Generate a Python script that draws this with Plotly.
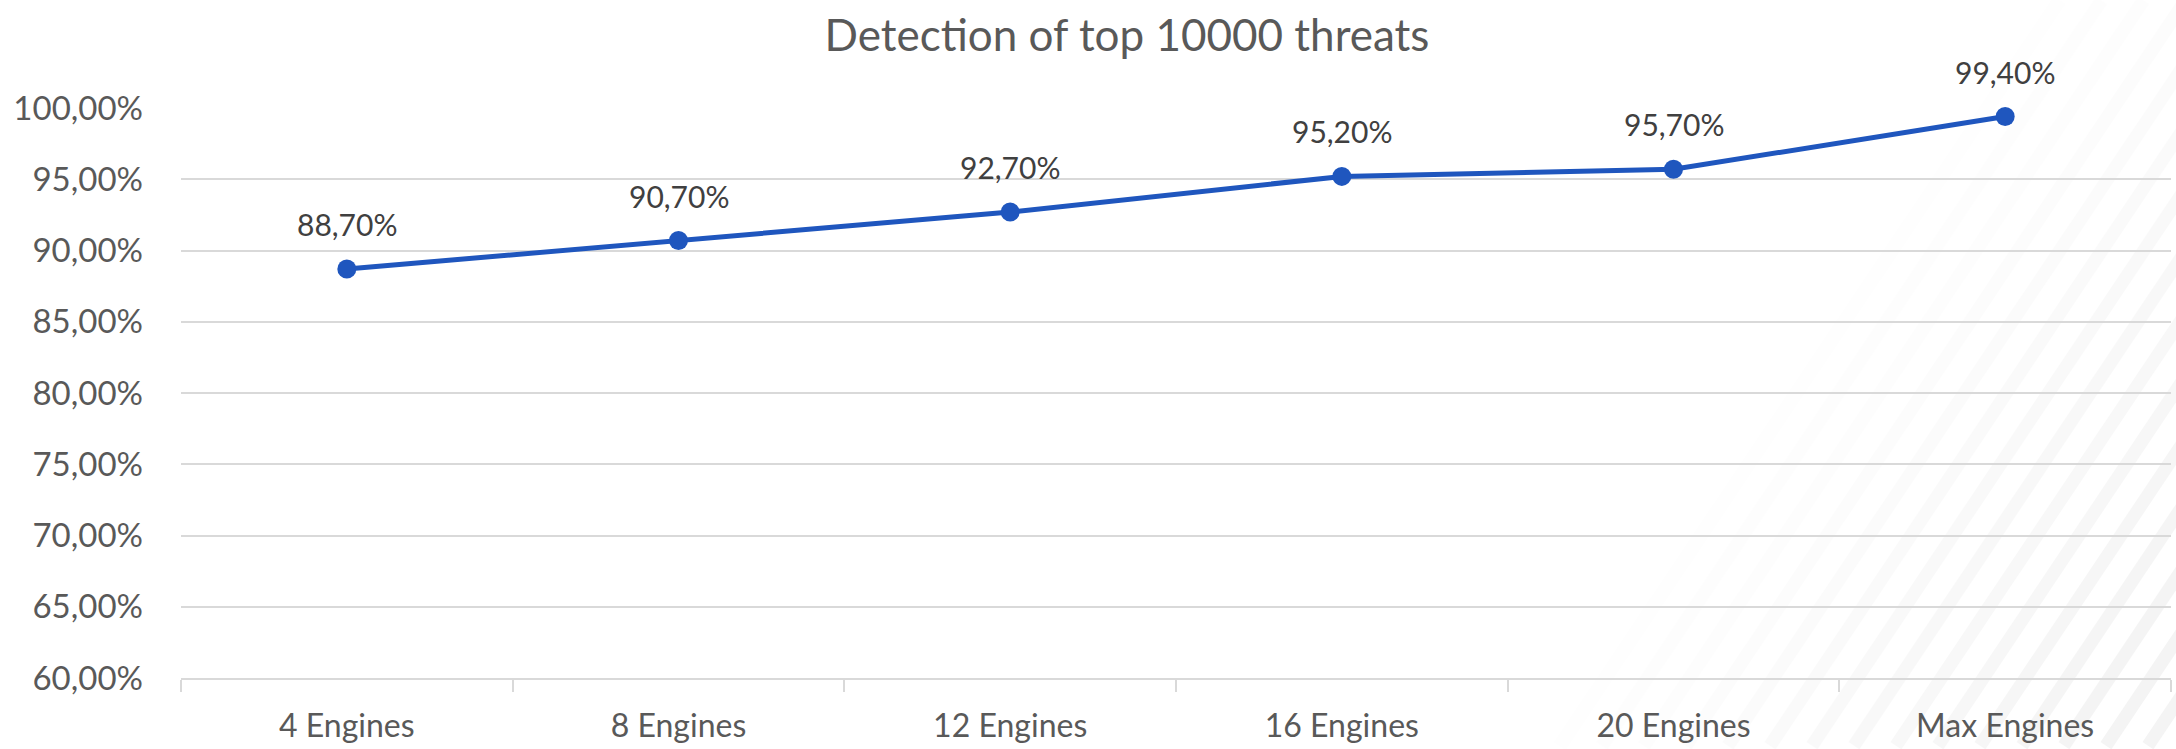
import plotly.graph_objects as go

categories = ["4 Engines", "8 Engines", "12 Engines", "16 Engines", "20 Engines", "Max Engines"]
detection = [88.7, 90.7, 92.7, 95.2, 95.7, 99.4]
y_ticks = [60, 65, 70, 75, 80, 85, 90, 95, 100]
title_text = "Detection of top 10000 threats"

W, H = 2176, 749
L, R, T, B = 181, 5, 108, 68
PW, PH = W - L - R, H - T - B

def fmt(v):
    return f"{v:.2f}".replace(".", ",") + "%"

fig = go.Figure()
fig.add_trace(go.Scatter(
    x=categories, y=detection, mode="lines+markers",
    line=dict(color="#1f56be", width=5),
    marker=dict(color="#1f56be", size=19),
    hoverinfo="skip", cliponaxis=False,
))

for c, v in zip(categories, detection):
    fig.add_annotation(x=c, y=v, text=fmt(v),
                       showarrow=False, yanchor="middle", yshift=45,
                       font=dict(family="Lato", size=30, color="#404040"))

# decorative diagonal stripes on the right
shapes = []
slope = 1.5
for i in range(40):
    xb = 1350 + i * 42
    xt = xb + H / slope
    xm = (xb + xt) / 2
    a = max(0.0, min(1.0, (xm - 1800) / 550))
    if a <= 0:
        continue
    shapes.append(dict(
        type="line", xref="paper", yref="paper", layer="below",
        x0=(xb - L) / PW, y0=(T + PH - H) / PH,
        x1=(xt - L) / PW, y1=(T + PH) / PH,
        line=dict(color="#e4e4e4", width=13), opacity=a * 0.4,
    ))

fig.update_layout(
    width=W, height=H,
    margin=dict(l=L, r=R, t=T, b=B),
    paper_bgcolor="white", plot_bgcolor="rgba(0,0,0,0)",
    showlegend=False,
    shapes=shapes,
    title=dict(text=title_text, x=1127 / W, xanchor="center", xref="container",
               y=1 - 36 / H, yanchor="middle", yref="container",
               font=dict(family="Lato", size=44, color="#595959")),
    font=dict(family="Lato"),
)
fig.update_xaxes(
    range=[-0.5, len(categories) - 0.5],
    showgrid=False, showline=True, linecolor="#d9d9d9", linewidth=2,
    ticks="outside", tickson="boundaries", ticklen=12, tickcolor="#d9d9d9", tickwidth=2,
    tickfont=dict(family="Lato", size=32, color="#595959"),
    ticklabelstandoff=19, fixedrange=True,
)
fig.update_yaxes(
    range=[60, 100], tickvals=y_ticks, ticktext=[fmt(v) for v in y_ticks],
    showgrid=True, gridcolor="#d9d9d9", gridwidth=2, zeroline=False,
    showline=False, ticks="",
    tickfont=dict(family="Lato", size=33, color="#595959"),
    ticklabelstandoff=37, fixedrange=True,
)

fig.write_html("out.html", config={"displayModeBar": False},
               post_script="document.body.style.margin='0';")
